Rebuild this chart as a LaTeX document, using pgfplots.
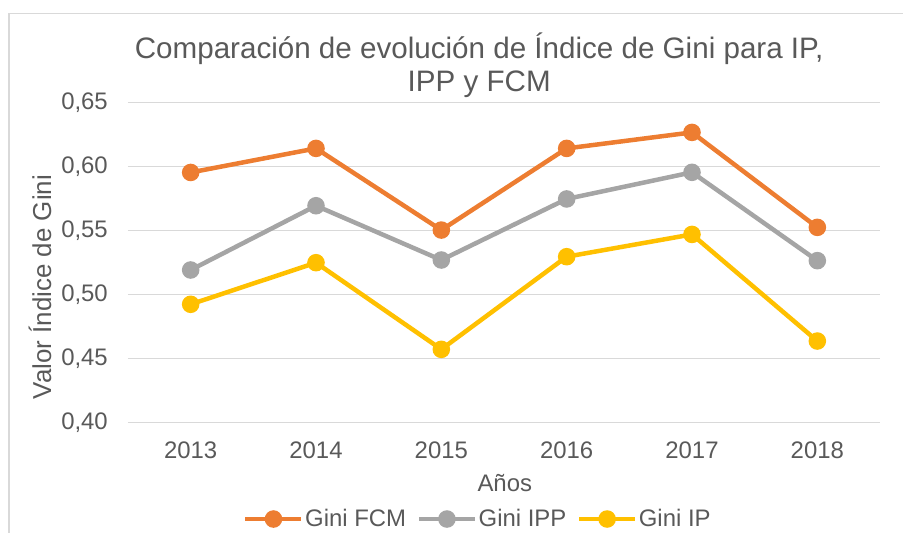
\documentclass[border=0pt]{standalone}
\usepackage{fontspec}
\setmainfont{Liberation Sans}
\usepackage{pgfplots}
\pgfplotsset{compat=1.18}
\definecolor{fcm}{HTML}{ED7D31}
\definecolor{ipp}{HTML}{A5A5A5}
\definecolor{ip}{HTML}{FFC000}
\definecolor{txt}{HTML}{595959}
\definecolor{grd}{HTML}{D9D9D9}

\begin{document}
\begin{tikzpicture}
\useasboundingbox (-128bp,-110.3bp) rectangle (775bp,422.7bp);
% chart frame (only left and top edges are inside the crop)
\draw[grd, line width=1.2bp] (-119bp,-130bp) -- (-119bp,409bp) -- (800bp,409bp);
\begin{axis}[
    scale only axis,
    width=752bp, height=320bp,
    xmin=-0.5, xmax=5.5,
    ymin=0.40, ymax=0.65,
    xtick={0,1,2,3,4,5},
    xticklabels={2013,2014,2015,2016,2017,2018},
    ytick={0.40,0.45,0.50,0.55,0.60,0.65},
    /pgf/number format/assume math mode=true,
    ymajorgrids,
    major grid style={grd, line width=1.3bp},
    axis line style={draw=none},
    tick style={draw=none},
    ticklabel style={font=\fontsize{24}{28}\selectfont, text=txt, inner sep=0pt},
    yticklabel style={/pgf/number format/fixed, /pgf/number format/fixed zerofill,
                      /pgf/number format/precision=2, /pgf/number format/use comma,
                      xshift=-20bp},
    xticklabel style={yshift=-19bp},
    title={Comparación de evolución de Índice de Gini para IP,\\IPP y FCM},
    title style={font=\fontsize{29.7}{33}\selectfont, text=txt, align=center,
                 inner sep=0pt, at={(axis description cs:0.467,1.0)}, anchor=south, yshift=-1bp},
    xlabel={Años},
    xlabel style={font=\fontsize{24}{28}\selectfont, text=txt, inner sep=0pt,
                  at={(axis description cs:0.501,-0.187)}, anchor=center},
    ylabel={Valor Índice de Gini},
    ylabel style={font=\fontsize{26}{30}\selectfont, text=txt, inner sep=0pt,
                  at={(axis description cs:-0.117,0.424)}, anchor=center},
    legend columns=3,
    legend style={draw=none, fill=none, at={(axis description cs:0.465,-0.301)}, anchor=center,
                  font=\fontsize{24}{28}\selectfont, text=txt, nodes={inner sep=1.5bp},
                  /tikz/every even column/.append style={column sep=9bp}},
    legend image code/.code={\draw[mark repeat=2,mark phase=2,#1] plot coordinates {(0bp,0bp) (28bp,0bp) (56bp,0bp)};},
    every axis plot/.append style={line width=4.5bp, mark=*, mark size=6.5bp},
]
\addplot[fcm, mark options={fill=fcm, draw=fcm}] coordinates {
    (0,0.5955) (1,0.6143) (2,0.5505) (3,0.6143) (4,0.6268) (5,0.5526)};
\addlegendentry{Gini FCM}
\addplot[ipp, mark options={fill=ipp, draw=ipp}] coordinates {
    (0,0.5193) (1,0.5695) (2,0.5271) (3,0.5748) (4,0.5956) (5,0.5266)};
\addlegendentry{Gini IPP}
\addplot[ip, mark options={fill=ip, draw=ip}] coordinates {
    (0,0.4925) (1,0.5250) (2,0.4573) (3,0.5297) (4,0.5471) (5,0.4638)};
\addlegendentry{Gini IP}
\end{axis}
\end{tikzpicture}
\end{document}
